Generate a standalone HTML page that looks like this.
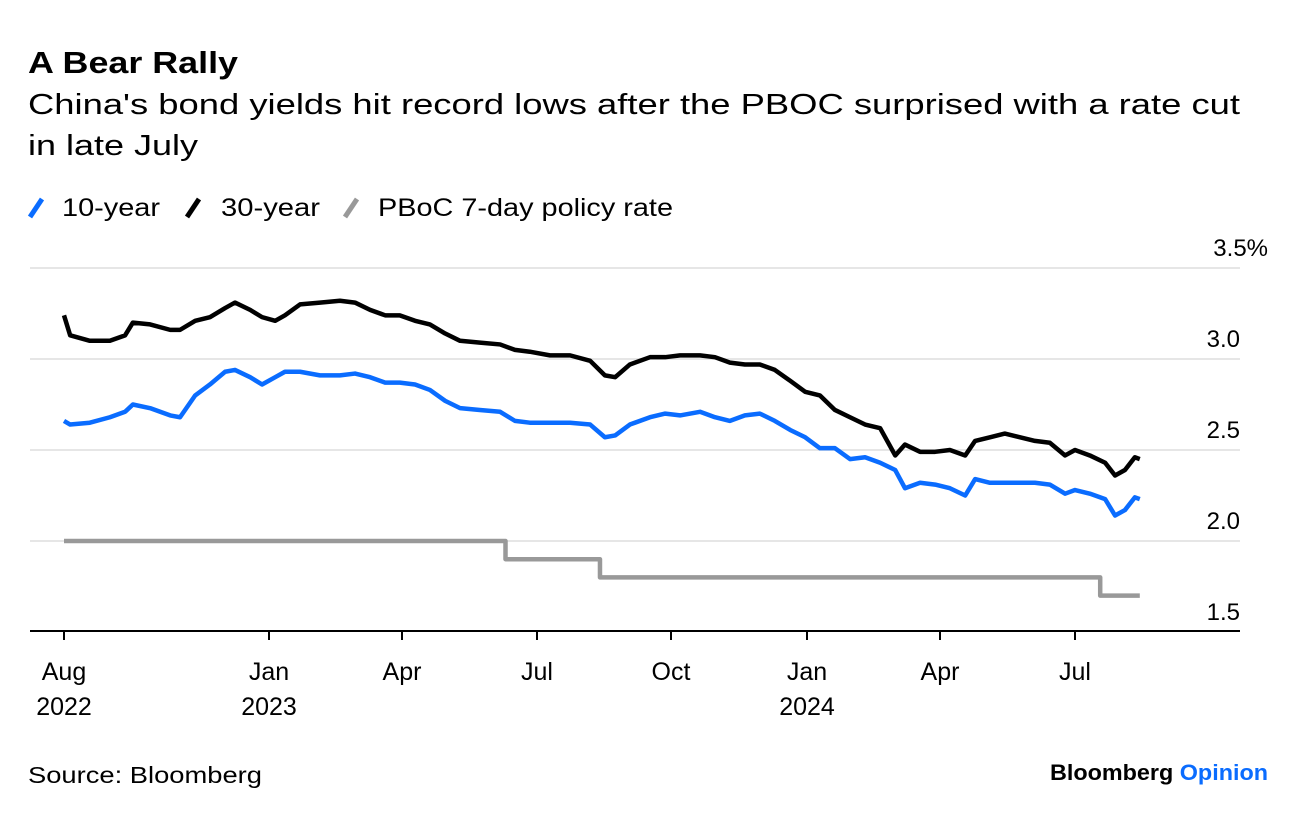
<!DOCTYPE html>
<html><head><meta charset="utf-8"><style>
body{margin:0;background:#fff;width:1296px;height:816px;overflow:hidden;font-family:"Liberation Sans",sans-serif;}
svg{position:absolute;left:0;top:0}
</style></head><body>
<svg width="1296" height="816">
<text x="28" y="73" font-size="31" font-weight="bold" fill="#000" textLength="210" lengthAdjust="spacingAndGlyphs">A Bear Rally</text>
<text x="28" y="114" font-size="29" fill="#000" textLength="1212" lengthAdjust="spacingAndGlyphs">China's bond yields hit record lows after the PBOC surprised with a rate cut</text>
<text x="28" y="155" font-size="29" fill="#000" textLength="170" lengthAdjust="spacingAndGlyphs">in late July</text>
<g>
<line x1="30" y1="217" x2="42" y2="199" stroke="#0a6cff" stroke-width="5"/>
<text x="62" y="216" font-size="25" textLength="98" lengthAdjust="spacingAndGlyphs">10-year</text>
<line x1="187" y1="217" x2="199" y2="199" stroke="#000" stroke-width="5"/>
<text x="221" y="216" font-size="25" textLength="99" lengthAdjust="spacingAndGlyphs">30-year</text>
<line x1="345" y1="217" x2="357" y2="199" stroke="#999" stroke-width="5"/>
<text x="378" y="216" font-size="25" textLength="295" lengthAdjust="spacingAndGlyphs">PBoC 7-day policy rate</text>
</g>
<g id="grid"></g><g id="series"></g><g id="xaxis"></g>
<text x="28" y="783" font-size="23" textLength="234" lengthAdjust="spacingAndGlyphs">Source: Bloomberg</text>
<text x="1268" y="780" font-size="22" font-weight="bold" text-anchor="end" textLength="218" lengthAdjust="spacingAndGlyphs">Bloomberg <tspan fill="#0a6cff">Opinion</tspan></text>
</svg>
<script>
const months=[0,.15,.63,1.12,1.49,1.68,2.10,2.59,2.83,3.20,3.56,3.93,4.17,4.54,4.83,5.14,5.36,5.70,6.15,6.60,6.94,7.28,7.62,7.95,8.29,8.62,8.96,9.29,9.73,10.18,10.51,10.84,11.29,11.74,12.19,12.52,12.75,13.08,13.53,13.87,14.20,14.64,14.97,15.30,15.63,15.96,16.29,16.63,16.96,17.29,17.63,17.97,18.31,18.65,18.99,19.21,19.55,19.89,20.22,20.56,20.78,21.11,21.44,21.78,22.11,22.44,22.78,23,23.33,23.67,23.89,24.11,24.33,24.44];
const y30=[3.24,3.13,3.10,3.10,3.13,3.20,3.19,3.16,3.16,3.21,3.23,3.28,3.31,3.27,3.23,3.21,3.24,3.30,3.31,3.32,3.31,3.27,3.24,3.24,3.21,3.19,3.14,3.10,3.09,3.08,3.05,3.04,3.02,3.02,2.99,2.91,2.90,2.97,3.01,3.01,3.02,3.02,3.01,2.98,2.97,2.97,2.94,2.88,2.82,2.80,2.72,2.68,2.64,2.62,2.47,2.53,2.49,2.49,2.50,2.47,2.55,2.57,2.59,2.57,2.55,2.54,2.47,2.50,2.47,2.43,2.36,2.39,2.46,2.45];
const y10=[2.66,2.64,2.65,2.68,2.71,2.75,2.73,2.69,2.68,2.80,2.86,2.93,2.94,2.90,2.86,2.90,2.93,2.93,2.91,2.91,2.92,2.90,2.87,2.87,2.86,2.83,2.77,2.73,2.72,2.71,2.66,2.65,2.65,2.65,2.64,2.57,2.58,2.64,2.68,2.70,2.69,2.71,2.68,2.66,2.69,2.70,2.66,2.61,2.57,2.51,2.51,2.45,2.46,2.43,2.39,2.29,2.32,2.31,2.29,2.25,2.34,2.32,2.32,2.32,2.32,2.31,2.26,2.28,2.26,2.23,2.14,2.17,2.24,2.23];
const policyMonths=[0,10.3,12.41,23.56,24.44];
const policyRates=[2.0,1.9,1.8,1.7,1.7];
const yTicks=[1.5,2.0,2.5,3.0,3.5];
const yTickLabels=["1.5","2.0","2.5","3.0","3.5%"];
const xTickMonths=[0,5,8,11,14,17,20,23];
const xTickLabels=[["Aug","2022"],["Jan","2023"],["Apr",""],["Jul",""],["Oct",""],["Jan","2024"],["Apr",""],["Jul",""]];
const anchorM=[0,5,8,11,14,17,20,23],anchorX=[64,269,402,537,671,807,940,1075];
function xs(m){let i=0;while(i<anchorM.length-2&&m>anchorM[i+1])i++;return anchorX[i]+(m-anchorM[i])*(anchorX[i+1]-anchorX[i])/(anchorM[i+1]-anchorM[i]);}
function ys(v){return 632-(v-1.5)*182;}
const NS="http://www.w3.org/2000/svg";
function mk(t,a,p){const e=document.createElementNS(NS,t);for(const k in a)e.setAttribute(k,a[k]);p.appendChild(e);return e;}
const grid=document.getElementById('grid');
yTicks.forEach((v,i)=>{
 if(i>0){const l=mk('line',{x1:30,x2:1240,y1:ys(v),y2:ys(v),stroke:'#e6e6e6','stroke-width':2},grid);
 
 }
 const t=mk('text',{x:1240,y:ys(v)-12,'font-size':24,'text-anchor':'end'},grid);
 if(i==yTicks.length-1)t.setAttribute('x',1268);
 t.textContent=yTickLabels[i];
 
 
});
const ser=document.getElementById('series');
function line(ms,vs,col,name,step){let d='';ms.forEach((m,i)=>{const x=xs(m),y=ys(vs[i]);if(i==0)d+='M'+x+','+y;else{if(step)d+='L'+x+','+ys(vs[i-1]);d+='L'+x+','+y;}});
 const p=mk('path',{d:d,fill:'none',stroke:col,'stroke-width':4.5,'stroke-linejoin':'round'},ser);
 
 }
line(policyMonths,policyRates,'#999','policy-rate-line',true);
line(months,y30,'#000','30-year-line',false);
line(months,y10,'#0a6cff','10-year-line',false);
const xa=document.getElementById('xaxis');
const ax=mk('line',{x1:30,x2:1240,y1:631,y2:631,stroke:'#000','stroke-width':2},xa);


xTickMonths.forEach((m,i)=>{const x=xs(m);
 const tk=mk('line',{x1:x,x2:x,y1:631,y2:640,stroke:'#000','stroke-width':2},xa);
 
 
 const t=mk('text',{x:x,y:680,'font-size':25,'text-anchor':'middle'},xa);
 t.textContent=xTickLabels[i][0];
 
 
 if(xTickLabels[i][1]){const t2=mk('text',{x:x,y:715,'font-size':25,'text-anchor':'middle'},xa);
 t2.textContent=xTickLabels[i][1];
 
 }
});
</script>
</body></html>
